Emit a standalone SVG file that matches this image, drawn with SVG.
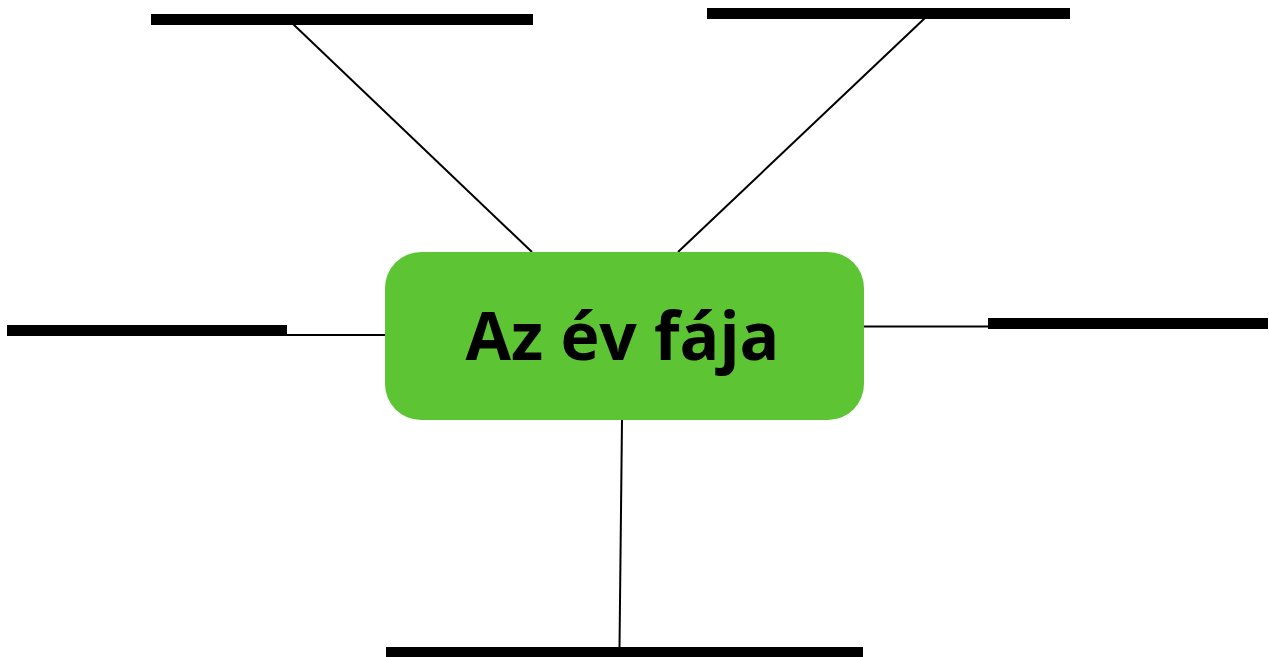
<svg xmlns="http://www.w3.org/2000/svg" width="1269" height="657" viewBox="0 0 1269 657">
<style>
.bar{fill:#000}
.conn{stroke:#000;stroke-width:2;fill:none}
.label{font-family:"Open Sans",sans-serif;font-weight:700;font-size:66px;fill:#000}
</style>
<rect width="1269" height="657" fill="#fff"/>
<g id="connectors">
<line class="conn" x1="293" y1="24" x2="532" y2="252"/>
<line class="conn" x1="925" y1="18" x2="678" y2="252"/>
<line class="conn" x1="287" y1="335" x2="386" y2="335"/>
<line class="conn" x1="863" y1="326.5" x2="989" y2="326.5"/>
<line class="conn" x1="622" y1="420" x2="619.5" y2="648"/>
</g>
<g id="center">
<rect x="385" y="252" width="479" height="168" rx="36" fill="#5DC433"/>
<text class="label" x="622.5" y="360" text-anchor="middle">Az év fája</text>
</g>
<g id="bar-top-left"><rect class="bar" x="151" y="14" width="382" height="11"/></g>
<g id="bar-top-right"><rect class="bar" x="707" y="8" width="363" height="11"/></g>
<g id="bar-left"><rect class="bar" x="7" y="325" width="280" height="11"/></g>
<g id="bar-right"><rect class="bar" x="988" y="318" width="280" height="11"/></g>
<g id="bar-bottom"><rect class="bar" x="386" y="647" width="477" height="11"/></g>
</svg>
